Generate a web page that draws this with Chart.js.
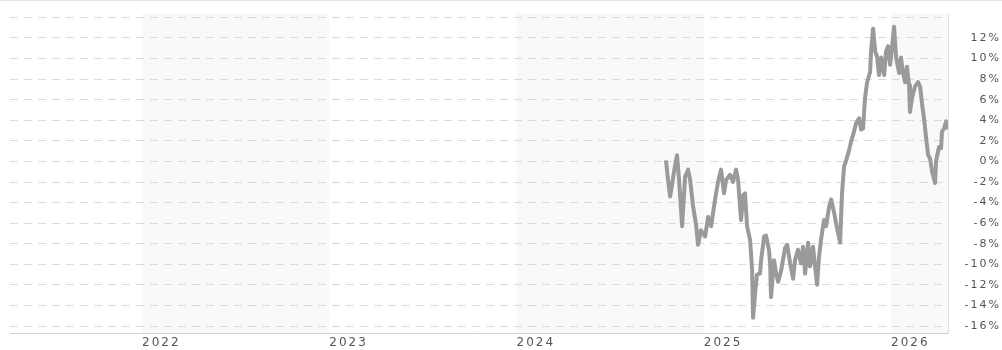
<!DOCTYPE html>
<html>
<head>
<meta charset="utf-8">
<script src="https://cdn.jsdelivr.net/npm/chart.js@4.4.1/dist/chart.umd.min.js"></script>
<style>
  html, body { margin: 0; padding: 0; background: #fff; }
  #wrap { position: relative; width: 1002px; height: 350px; }
  #topline { position: absolute; left: 0; top: 0; width: 1002px; height: 0; border-top: 1px solid #e4e4e4; }
</style>
</head>
<body>
<div id="wrap">
  <canvas id="perfChart" width="1002" height="350"></canvas>
  <div id="topline"></div>
</div>
<script>
// Dates as decimal years, performance in percent
const dates = [
  2024.798, 2024.809, 2024.820, 2024.830, 2024.841, 2024.857, 2024.868, 2024.884, 2024.900, 2024.916,
  2024.927, 2024.943, 2024.959, 2024.969, 2024.985, 2025.007, 2025.023, 2025.039, 2025.060, 2025.076,
  2025.092, 2025.108, 2025.119, 2025.140, 2025.156, 2025.172, 2025.183, 2025.199, 2025.210, 2025.220,
  2025.231, 2025.247, 2025.258, 2025.263, 2025.274, 2025.284, 2025.300, 2025.306, 2025.322, 2025.332,
  2025.348, 2025.354, 2025.359, 2025.375, 2025.386, 2025.397, 2025.413, 2025.434, 2025.445, 2025.461,
  2025.477, 2025.487, 2025.503, 2025.519, 2025.530, 2025.541, 2025.557, 2025.567, 2025.583, 2025.594,
  2025.605, 2025.615, 2025.626, 2025.642, 2025.653, 2025.669, 2025.680, 2025.696, 2025.706, 2025.728,
  2025.738, 2025.749, 2025.760, 2025.776, 2025.786, 2025.802, 2025.813, 2025.829, 2025.840, 2025.850,
  2025.861, 2025.872, 2025.888, 2025.893, 2025.904, 2025.915, 2025.925, 2025.936, 2025.947, 2025.963,
  2025.973, 2025.984, 2025.995, 2026.005, 2026.016, 2026.027, 2026.043, 2026.053, 2026.064, 2026.075,
  2026.085, 2026.096, 2026.101, 2026.112, 2026.128, 2026.144, 2026.155, 2026.166, 2026.176, 2026.187,
  2026.198, 2026.208, 2026.219, 2026.235, 2026.240, 2026.256, 2026.267, 2026.272, 2026.283, 2026.294,
  2026.299
];
const performance = [
  0.1, -1.8, -3.4, -2.3, -1.0, 0.6, -1.8, -6.3, -1.5, -0.8,
  -1.8, -4.4, -6.2, -8.1, -6.7, -7.3, -5.4, -6.3, -3.7, -2.0,
  -0.8, -3.1, -1.8, -1.3, -2.0, -0.8, -1.8, -5.7, -3.3, -3.1,
  -6.3, -7.6, -10.6, -15.2, -12.8, -11.0, -10.9, -9.6, -7.3, -7.2,
  -8.6, -9.9, -13.2, -9.6, -10.9, -11.7, -10.6, -8.4, -8.1, -9.9,
  -11.4, -9.6, -8.6, -9.9, -8.3, -10.9, -7.9, -10.2, -8.3, -10.2,
  -12.0, -9.3, -7.6, -5.7, -6.3, -4.4, -3.7, -5.0, -6.0, -7.9,
  -3.1, -0.5, 0.1, 1.1, 1.9, 2.9, 3.7, 4.2, 3.1, 3.2,
  6.2, 7.7, 8.7, 10.7, 12.9, 10.7, 10.2, 8.4, 10.1, 8.4,
  10.7, 11.2, 9.4, 11.0, 13.1, 10.1, 8.6, 10.1, 8.6, 7.7,
  9.2, 7.4, 4.8, 6.2, 7.3, 7.7, 7.3, 5.5, 4.2, 2.3,
  0.6, 0.3, -1.0, -2.1, 0.0, 1.4, 1.3, 2.9, 3.2, 3.9,
  3.1
];
const yearTicks = [2022, 2023, 2024, 2025, 2026];
const shadedYears = [2022, 2024, 2026];
const percentTicks = [-16, -14, -12, -10, -8, -6, -4, -2, 0, 2, 4, 6, 8, 10, 12, 14];

const xMin = 2021.295;
const xMax = 2026.304;
const yMin = -16.68;
const yMax = 14.43;

// alternate year shading behind the grid
const yearBands = {
  id: "yearBands",
  beforeUpdate(chart) {
    chart.ctx.letterSpacing = "2px";
  },
  beforeDraw(chart) {
    const { ctx, chartArea, scales } = chart;
    ctx.save();
    ctx.fillStyle = "#f9f9f9";
    shadedYears.forEach((yr) => {
      const x1 = Math.max(scales.x.getPixelForValue(yr), chartArea.left);
      const x2 = Math.min(scales.x.getPixelForValue(yr + 1), chartArea.right);
      if (x2 > x1) ctx.fillRect(x1, chartArea.top, x2 - x1, chartArea.bottom - chartArea.top);
    });
    ctx.restore();
  },
};

const ctx = document.getElementById("perfChart").getContext("2d");
new Chart(ctx, {
  type: "line",
  data: {
    datasets: [
      {
        data: dates.map((d, i) => ({ x: d, y: performance[i] })),
        borderColor: "#9a9a9a",
        borderWidth: 4,
        borderJoinStyle: "round",
        pointRadius: 0,
        tension: 0,
        fill: false,
      },
    ],
  },
  options: {
    responsive: false,
    animation: false,
    layout: { padding: { left: 10, top: 13, right: 1, bottom: 0 } },
    plugins: { legend: { display: false }, tooltip: { enabled: false } },
    scales: {
      x: {
        type: "linear",
        min: xMin,
        max: xMax,
        afterBuildTicks: (scale) => {
          scale.ticks = yearTicks.map((v) => ({ value: v }));
        },
        afterFit: (scale) => {
          scale.height = 17;
        },
        grid: { display: false, drawTicks: false },
        border: { display: true, color: "#d0d0d0", width: 1 },
        ticks: {
          align: "start",
          padding: 3,
          color: "#555",
          font: { family: "DejaVu Sans", size: 12 },
          maxRotation: 0,
          autoSkip: false,
          callback: (v) => String(v),
        },
      },
      y: {
        position: "right",
        min: yMin,
        max: yMax,
        afterBuildTicks: (scale) => {
          scale.ticks = percentTicks.map((v) => ({ value: v }));
        },
        afterFit: (scale) => {
          scale.width = 53;
        },
        grid: { color: "#dadada", lineWidth: 1, drawTicks: false },
        border: { display: true, color: "#e0e0e0", dash: [8, 6] },
        ticks: {
          crossAlign: "far",
          color: "#555",
          font: { family: "DejaVu Sans", size: 11 },
          callback: (v) => (v === 14 ? "" : v + "%"),
        },
      },
    },
  },
  plugins: [yearBands],
});
</script>
</body>
</html>
